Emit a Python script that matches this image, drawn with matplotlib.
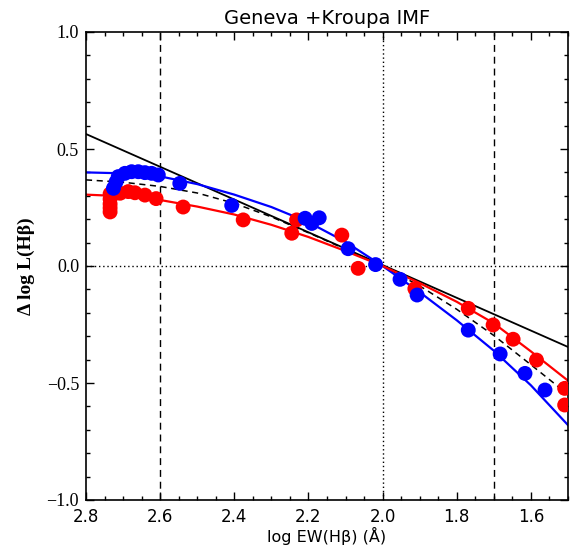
import matplotlib
matplotlib.use("Agg")
import matplotlib.pyplot as plt
from matplotlib.ticker import MultipleLocator, FixedLocator

# ---- data ----
blue_x = [2.726, 2.719, 2.713, 2.695, 2.677, 2.659, 2.641, 2.623, 2.605, 2.547,
          2.407, 2.209, 2.191, 2.171, 2.093, 2.019, 1.953, 1.907, 1.769, 1.683,
          1.616, 1.562]
blue_y = [0.332, 0.359, 0.382, 0.396, 0.403, 0.403, 0.399, 0.396, 0.389, 0.353,
          0.259, 0.204, 0.182, 0.206, 0.074, 0.006, -0.057, -0.124, -0.274, -0.376,
          -0.459, -0.530]

red_x = [2.735, 2.735, 2.735, 2.735, 2.735, 2.708, 2.686, 2.668, 2.641, 2.611,
         2.538, 2.376, 2.245, 2.232, 2.110, 2.066, 1.913, 1.769, 1.702, 1.648,
         1.585, 1.509, 1.509]
red_y = [0.308, 0.286, 0.265, 0.248, 0.231, 0.311, 0.318, 0.313, 0.303, 0.288,
         0.252, 0.197, 0.140, 0.197, 0.132, -0.010, -0.097, -0.181, -0.252, -0.313,
         -0.402, -0.523, -0.594]

curve_x = [2.8, 2.7, 2.6, 2.5, 2.4, 2.3, 2.2, 2.1, 2.0, 1.9, 1.8, 1.7, 1.6, 1.5]
blue_fit = [0.400, 0.396, 0.383, 0.350, 0.305, 0.252, 0.187, 0.103, 0.0,
            -0.112, -0.232, -0.362, -0.510, -0.680]
red_fit = [0.305, 0.298, 0.282, 0.254, 0.220, 0.176, 0.124, 0.064, 0.0,
           -0.073, -0.153, -0.245, -0.365, -0.490]
dash_fit = [0.368, 0.358, 0.340, 0.312, 0.268, 0.210, 0.142, 0.072, 0.0,
            -0.085, -0.185, -0.297, -0.422, -0.549]

line_x = [2.8, 1.5]
line_y = [0.564, -0.346]

vdash_x = [2.6, 1.7]
vdot_x = 2.0
hdot_y = 0.0

xticks = [2.8, 2.6, 2.4, 2.2, 2.0, 1.8, 1.6]
yticks = [-1.0, -0.5, 0.0, 0.5, 1.0]

# ---- figure ----
fig = plt.figure(figsize=(5.74, 5.49), dpi=100)
ax = fig.add_axes([86/574, 49/549, 482/574, 468/549])

ax.set_xlim(2.8, 1.5)
ax.set_ylim(-1.0, 1.0)

for xv in vdash_x:
    ax.axvline(xv, color="black", lw=1.0, ls=(0, (5, 3.5)), zorder=1)
ax.axvline(vdot_x, color="black", lw=1.0, ls=(0, (1, 2)), zorder=1)
ax.axhline(hdot_y, color="black", lw=1.0, ls=(0, (1, 2)), zorder=1)

ax.plot(line_x, line_y, color="black", lw=1.3, zorder=2)
ax.plot(curve_x, dash_fit, color="black", lw=1.1, ls=(0, (4, 3)), zorder=2)
ax.plot(curve_x, blue_fit, color="#0000ff", lw=1.6, zorder=2)
ax.plot(curve_x, red_fit, color="#ff0000", lw=1.6, zorder=2)

ax.scatter(red_x, red_y, s=115, color="#ff0000", edgecolors="none", zorder=3)
ax.scatter(blue_x, blue_y, s=115, color="#0000ff", edgecolors="none", zorder=4)

ax.xaxis.set_major_locator(FixedLocator(xticks))
ax.xaxis.set_minor_locator(MultipleLocator(0.05))
ax.yaxis.set_major_locator(FixedLocator(yticks))
ax.yaxis.set_minor_locator(MultipleLocator(0.1))
ax.tick_params(which="both", direction="in", top=True, right=True, width=1.0)
ax.tick_params(which="major", length=6)
ax.tick_params(which="minor", length=3)
ax.tick_params(axis="x", which="major", pad=6)
ax.tick_params(axis="y", which="major", pad=5)
ax.set_xticklabels([f"{v:.1f}" for v in xticks], fontsize=12, family="DejaVu Sans")
ax.set_yticklabels([f"{v:.1f}".replace("-", "\u2212") for v in yticks],
                   fontsize=13, family="Liberation Serif")
for sp in ax.spines.values():
    sp.set_linewidth(1.2)

ax.set_title("Geneva +Kroupa IMF", fontsize=14, family="DejaVu Sans", pad=6)
ax.set_xlabel("log EW(H\u03b2) (\u00c5)", fontsize=11.5, family="DejaVu Sans")
ax.xaxis.set_label_coords(0.5, -0.057)
ax.set_ylabel("\u0394 log L(H\u03b2)", fontsize=14, family="Liberation Serif",
              fontweight="bold", labelpad=8)

fig.savefig("out.png", dpi=100)
